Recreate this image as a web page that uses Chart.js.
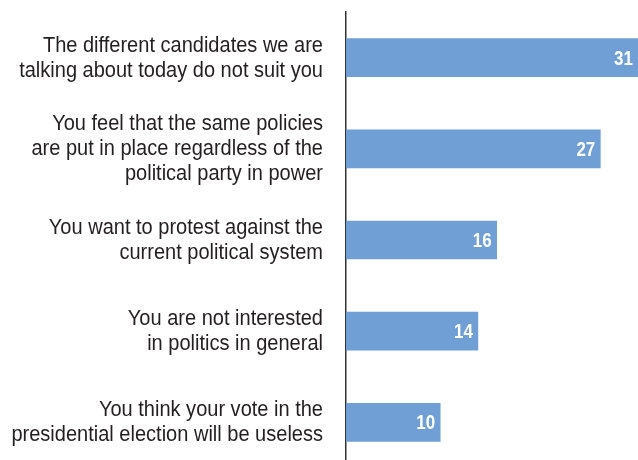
<!DOCTYPE html>
<html>
<head>
<meta charset="utf-8">
<script src="https://cdn.jsdelivr.net/npm/chart.js@4/dist/chart.umd.min.js"></script>
<style>
  html, body { margin: 0; padding: 0; background: #fff; overflow: hidden; }
  #wrap { position: relative; width: 638px; height: 468px; }
</style>
</head>
<body>
<div id="wrap"><canvas id="reasons"></canvas></div>
<script>
// Reasons for not voting (%)
const reasons = [
    ['The different candidates we are', 'talking about today do not suit you'],
    ['You feel that the same policies', 'are put in place regardless of the', 'political party in power'],
    ['You want to protest against the', 'current political system'],
    ['You are not interested', 'in politics in general'],
    ['You think your vote in the', 'presidential election will be useless']
];
const shares = [31, 27, 16, 14, 10];

const FONT = "'Liberation Sans', Arial, sans-serif";
const BAR_COLOR = '#6f9fd4';

// narrow text: squeeze the glyphs horizontally around the anchor point
function condensedText(ctx, text, x, y, squeeze) {
    ctx.save();
    ctx.translate(x, y);
    ctx.scale(squeeze, 1);
    ctx.fillText(text, 0, 0);
    ctx.restore();
}

// Category names, right aligned against the axis line
const categoryLabels = {
    id: 'categoryLabels',
    afterDraw(chart) {
        const ctx = chart.ctx;
        const yScale = chart.scales.y;
        const right = chart.chartArea.left - 23;
        const lineGap = 25;
        ctx.save();
        ctx.font = '22px ' + FONT;
        ctx.fillStyle = '#231f20';
        ctx.textAlign = 'right';
        ctx.textBaseline = 'alphabetic';
        reasons.forEach((lines, i) => {
            const mid = yScale.getPixelForTick(i);
            lines.forEach((line, k) => {
                const y = mid + (k - (lines.length - 1) / 2) * lineGap + 6.5;
                condensedText(ctx, line, right, y, 0.91);
            });
        });
        ctx.restore();
    }
};

// Writes each value in white just inside the end of its bar
const valueLabels = {
    id: 'valueLabels',
    afterDatasetsDraw(chart) {
        const ctx = chart.ctx;
        const meta = chart.getDatasetMeta(0);
        ctx.save();
        ctx.font = 'bold 20px ' + FONT;
        ctx.fillStyle = '#ffffff';
        ctx.textAlign = 'right';
        ctx.textBaseline = 'alphabetic';
        meta.data.forEach((bar, i) => {
            condensedText(ctx, String(shares[i]), bar.x - 5, bar.y + 7, 0.85);
        });
        ctx.restore();
    }
};

new Chart(document.getElementById('reasons'), {
    type: 'bar',
    data: {
        labels: reasons,
        datasets: [{
            data: shares,
            backgroundColor: BAR_COLOR,
            borderWidth: 0,
            barThickness: 38
        }]
    },
    options: {
        indexAxis: 'y',
        responsive: true,
        maintainAspectRatio: false,
        animation: false,
        layout: { padding: { top: 12, right: 0, bottom: 0, left: 0 } },
        plugins: {
            legend: { display: false },
            tooltip: { enabled: false }
        },
        scales: {
            x: {
                display: false,
                min: 0,
                max: 31
            },
            y: {
                grid: { display: false, drawTicks: false },
                border: { display: true, color: '#333', width: 1.5 },
                ticks: { display: false },
                afterFit(scale) {
                    scale.width = 346;
                }
            }
        }
    },
    plugins: [valueLabels, categoryLabels]
});
</script>
</body>
</html>
